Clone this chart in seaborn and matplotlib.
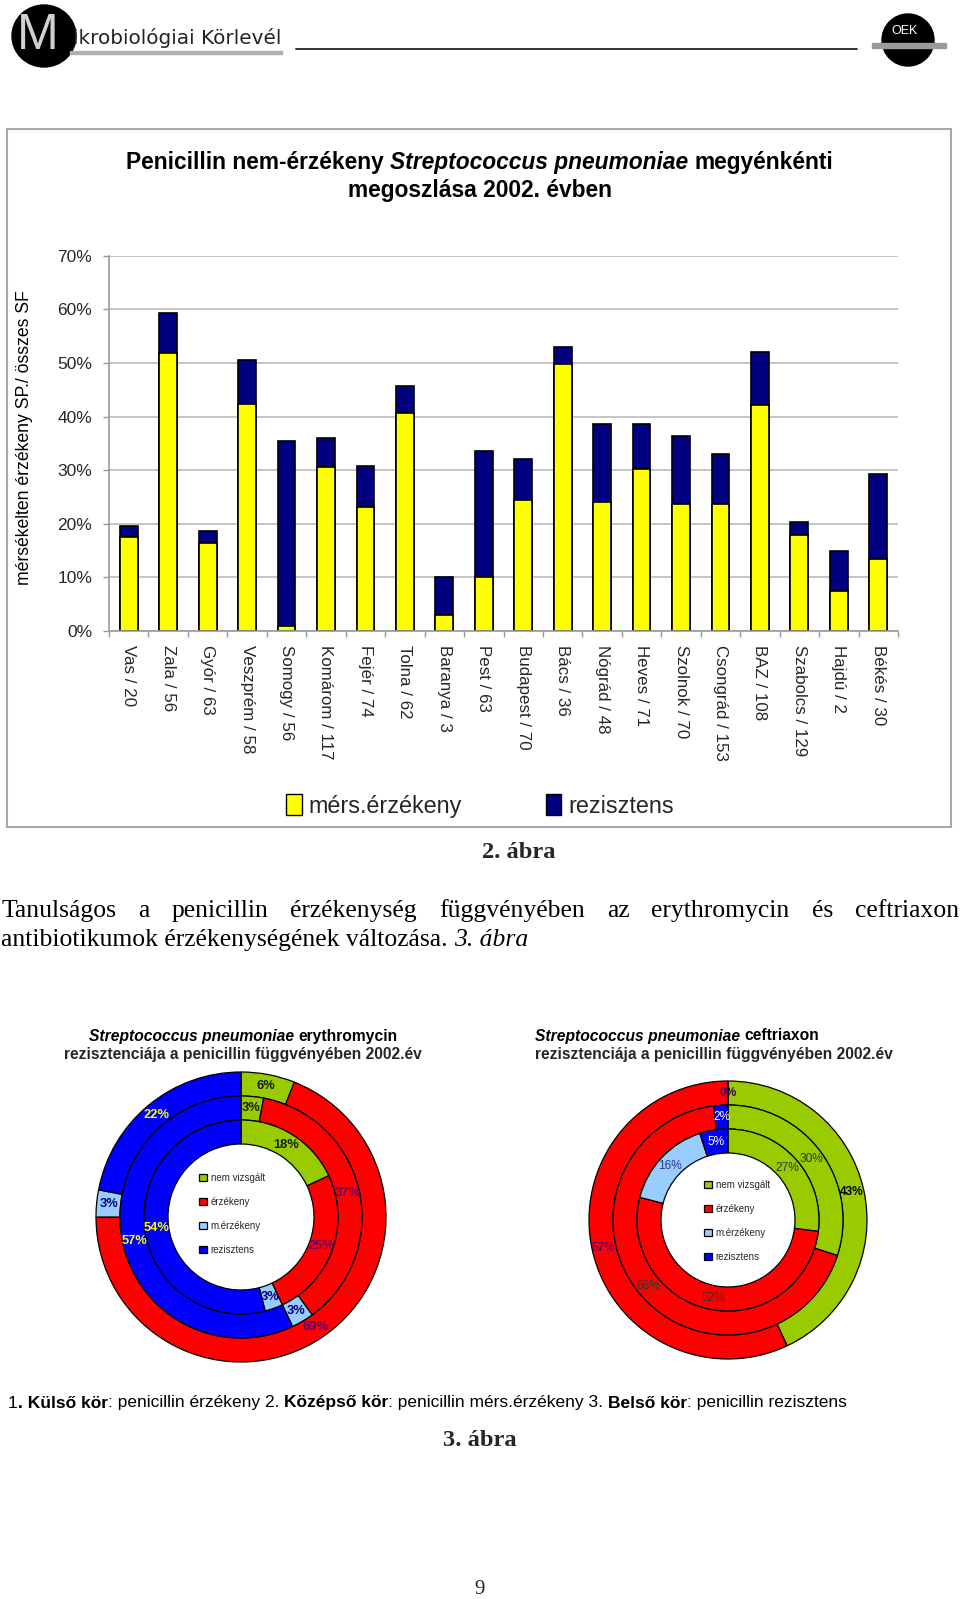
import numpy as np
import matplotlib
matplotlib.use("Agg")
import matplotlib.pyplot as plt
from matplotlib.patches import Rectangle, Ellipse, Patch
import seaborn as sns
import pandas as pd

# ---------------- data ----------------
regions = ["Vas / 20", "Zala / 56", "Gyór / 63", "Veszprém / 58", "Somogy / 56",
           "Komárom / 117", "Fejér / 74", "Tolna / 62", "Baranya / 3", "Pest / 63",
           "Budapest / 70", "Bács / 36", "Nógrád / 48", "Heves / 71", "Szolnok / 70",
           "Csongrád / 153", "BAZ / 108", "Szabolcs / 129", "Hajdú / 2", "Békés / 30"]
mers_erzekeny = [17.6, 51.9, 16.5, 42.4, 1.0, 30.6, 23.2, 40.6, 3.0, 10.1,
                 24.4, 49.8, 24.1, 30.3, 23.7, 23.7, 42.2, 17.9, 7.5, 13.4]
rezisztens = [2.0, 7.5, 2.1, 8.1, 34.4, 5.4, 7.5, 5.1, 7.0, 23.5,
              7.7, 3.1, 14.6, 8.4, 12.7, 9.4, 9.8, 2.5, 7.5, 15.9]
y_ticks = [0, 10, 20, 30, 40, 50, 60, 70]
bar_series = ["mérs.érzékeny", "rezisztens"]

categories = ["nem vizsgált", "érzékeny", "m.érzékeny", "rezisztens"]
ery_outer = [6, 69, 3, 22]
ery_middle = [3, 37, 3, 57]
ery_inner = [18, 25, 3, 54]
cef_outer = [43, 57, 0, 0]
cef_middle = [30, 68, 0, 2]
cef_inner = [27, 52, 16, 5]

# ---------------- setup ----------------
sns.set_theme(style="white")
plt.rcParams["font.family"] = ["Liberation Sans", "DejaVu Sans"]
W, H = 960, 1599
fig = plt.figure(figsize=(W / 100, H / 100), dpi=100)
fig.patch.set_facecolor("white")
REND = fig.canvas.get_renderer()

pg = fig.add_axes([0, 0, 1, 1], zorder=0)
pg.set_xlim(0, W)
pg.set_ylim(H, 0)
pg.axis("off")

SANS = ["Liberation Sans", "DejaVu Sans"]
SERIF = ["Liberation Serif", "DejaVu Serif"]


def px_axes(l, t, r, b, z=2):
    ax = fig.add_axes([l / W, 1 - b / H, (r - l) / W, (b - t) / H], zorder=z)
    ax.patch.set_alpha(0)
    return ax


def tw(s, **kw):
    t = pg.text(0, 0, s, **kw)
    w = t.get_window_extent(REND).width
    t.remove()
    return w


def fit(s, target, **kw):
    return 10 * target / tw(s, fontsize=10, **kw)


def rich(segs, x, y, ha="left", **base):
    items, total = [], 0.0
    for s, st in segs:
        kw = {**base, **st}
        lead = len(s) - len(s.lstrip(" "))
        trail = len(s) - len(s.rstrip(" "))
        core = s.strip(" ")
        sp = tw("x x", **kw) - tw("xx", **kw)
        total += lead * sp
        items.append((core, kw, total))
        total += tw(core, **kw) + trail * sp
    x0 = x - total / 2 if ha == "center" else x
    for core, kw, off in items:
        pg.text(x0 + off, y, core, ha="left", va="center", **kw)
    return total


def justify(words, x0, x1, y, **kw):
    ws = [tw(w, **kw) for w in words]
    gap = (x1 - x0 - sum(ws)) / (len(words) - 1)
    x = x0
    for w, wd in zip(words, ws):
        pg.text(x, y, w, ha="left", va="center", **kw)
        x += wd + gap


# ---------------- header ----------------
pg.add_patch(Ellipse((44, 36), 64, 62, color="black", zorder=2))
pg.text(38, 36, "M", ha="center", va="center", fontsize=36, color="#d0d0d0",
        family=SANS, zorder=3)
pg.text(73, 38, "ikrobiológiai Körlevél", ha="left", va="center", fontsize=14.4,
        color="#222222", family=["DejaVu Sans"], zorder=3)
pg.add_patch(Rectangle((70, 51), 212, 3, color="#b0b0b0", zorder=2))
pg.plot([296, 857], [49, 49], color="#333333", lw=1.4)
pg.add_patch(Ellipse((908, 40), 52, 52, color="black", zorder=2))
pg.add_patch(Rectangle((872, 43), 74, 5, color="#9a9a9a", zorder=3))
pg.text(904, 31, "OEK", ha="center", va="center", fontsize=9, color="white",
        family=SANS, zorder=4)

# ---------------- chart box ----------------
pg.add_patch(Rectangle((7, 129), 944, 698, fill=False, ec="#A8A8A8", lw=1.5))
ts = fit("Penicillin nem-érzékeny Streptococcus pneumoniae megyénkénti", 709,
         family=SANS, fontweight="bold")
rich([("Penicillin nem-érzékeny ", {}),
      ("Streptococcus pneumoniae", {"fontstyle": "italic"}),
      (" megyénkénti", {})], 480, 162, ha="center",
     family=SANS, fontweight="bold", fontsize=ts, color="black")
pg.text(480, 191, "megoszlása 2002. évben", ha="center", va="center",
        family=SANS, fontweight="bold", fontsize=ts, color="black")

# ---------------- bar chart ----------------
df = pd.DataFrame({"region": regions, "mers": mers_erzekeny, "rez": rezisztens})
df["total"] = df["mers"] + df["rez"]
ax = px_axes(109, 255.7, 898, 631)
sns.barplot(data=df, x="region", y="total", color="#000080", saturation=1,
            width=0.45, edgecolor="black", linewidth=1.2, errorbar=None, ax=ax)
sns.barplot(data=df, x="region", y="mers", color="#FFFF00", saturation=1,
            width=0.45, edgecolor="black", linewidth=1.2, errorbar=None, ax=ax)
ax.set_ylim(0, 70)
ax.set_xlim(-0.5, len(regions) - 0.5)
ax.set_xlabel("")
ax.set_ylabel("")
ax.set_yticks(y_ticks)
ax.set_yticklabels([f"{v}%" for v in y_ticks])
ax.yaxis.grid(True, color="#C0C0C0", lw=1.3)
ax.set_axisbelow(True)
ax.set_xticks(range(len(regions)))
ax.set_xticklabels(regions, rotation=270)
ax.set_xticks(np.arange(-0.5, len(regions), 1), minor=True)
ax.tick_params(axis="x", which="major", length=0, pad=10, labelsize=12.2)
ax.tick_params(axis="x", which="minor", length=4, color="#999999", width=1,
               bottom=True)
ax.tick_params(axis="y", length=4, color="#999999", width=1, pad=8,
               labelsize=12.5, left=True)
for side in ["top", "right"]:
    ax.spines[side].set_visible(False)
for side in ["left", "bottom"]:
    ax.spines[side].set_color("#999999")
    ax.spines[side].set_linewidth(1.2)

pg.text(25, 438, "mérsékelten érzékeny SP./ összes SF", rotation=90,
        ha="center", va="center", fontsize=12.7, family=SANS, color="black")

handles = [Patch(facecolor="#FFFF00", edgecolor="black", lw=1),
           Patch(facecolor="#000080", edgecolor="black", lw=1)]
fig.legend(handles, bar_series, loc="center", ncol=2,
           bbox_to_anchor=(480 / W, 1 - 806 / H), frameon=False,
           fontsize=16.8, handlelength=0.65, handleheight=0.95,
           handletextpad=0.3, columnspacing=3.6)

# ---------------- body text ----------------
bs = fit("2. ábra", 74, family=SERIF, fontweight="bold")
pg.text(519, 852, "2. ábra", ha="center", va="center", family=SERIF,
        fontweight="bold", fontsize=bs)
ps = fit("antibiotikumok érzékenységének változása. 3. ábra", 522, family=SERIF)
justify("Tanulságos a penicillin érzékenység függvényében az erythromycin és ceftriaxon".split(),
        1, 959, 911, family=SERIF, fontsize=ps, color="black")
rich([("antibiotikumok érzékenységének változása. ", {}),
      ("3. ábra", {"fontstyle": "italic"})], 1, 940,
     family=SERIF, fontsize=ps, color="black")

# ---------------- donuts ----------------
cat_colors = ["#99CC00", "#FF0000", "#99CCFF", "#0000FF"]


def donut(cx, cy, rings, radii, styles, leg_xy, lab_size):
    ax = px_axes(cx - 150, cy - 150, cx + 150, cy + 150)
    ring_w = radii[0] - radii[1]
    sets = []
    for vals, R, st in zip(rings, radii, styles):
        wedges, _ = ax.pie(vals, radius=R, startangle=90, counterclock=False,
                           colors=cat_colors,
                           wedgeprops=dict(width=ring_w, edgecolor="black",
                                           linewidth=0.9))
        sets.append(wedges)
        tot = sum(vals)
        cum = 0
        for v, s in zip(vals, st):
            mid = (cum + v / 2) / tot * 360
            cum += v
            if s is None:
                continue
            rr = R - ring_w / 2
            ax.text(rr * np.sin(np.radians(mid)), rr * np.cos(np.radians(mid)),
                    f"{v}%", ha="center", va="center", color=s[0],
                    fontweight=s[1], fontsize=lab_size, family=SANS)
    ax.set_xlim(-150, 150)
    ax.set_ylim(-150, 150)
    ax.set_aspect("equal")
    ax.axis("off")
    ax.legend(sets[-1], categories, loc="center", bbox_to_anchor=leg_xy,
              frameon=False, fontsize=7, handlelength=0.75, handleheight=0.75,
              handletextpad=0.4, labelspacing=1.45, borderpad=0)
    return ax


ery_style = [("#1a1a1a", "bold"), ("#660066", "bold"), ("#000080", "bold"),
             ("#FFFF00", "bold")]
donut(241, 1217, [ery_outer, ery_middle, ery_inner], [145, 121, 97],
      [ery_style] * 3, (0.47, 0.51), 9.3)
cef_styles = [
    [("#000000", "bold"), ("#660066", "bold"), ("#330066", "bold"), None],
    [("#333333", "normal"), ("#333333", "normal"), None, ("#FFFFFF", "normal")],
    [("#333333", "normal"), ("#333333", "normal"), ("#333399", "normal"),
     ("#FFFFFF", "normal")],
]
donut(728, 1220, [cef_outer, cef_middle, cef_inner], [139, 115, 91],
      cef_styles, (0.53, 0.497), 8.6)

dts = fit("rezisztenciája a penicillin függvényében 2002.év", 358, family=SANS,
          fontweight="bold")
rich([("Streptococcus pneumoniae", {"fontstyle": "italic"}),
      (" erythromycin", {})], 243, 1036, ha="center",
     family=SANS, fontweight="bold", fontsize=dts, color="black")
pg.text(243, 1054, "rezisztenciája a penicillin függvényében 2002.év",
        ha="center", va="center", family=SANS, fontweight="bold", fontsize=dts)
rich([("Streptococcus pneumoniae", {"fontstyle": "italic"}),
      (" ceftriaxon", {})], 535, 1036,
     family=SANS, fontweight="bold", fontsize=dts, color="black")
pg.text(535, 1054, "rezisztenciája a penicillin függvényében 2002.év",
        ha="left", va="center", family=SANS, fontweight="bold", fontsize=dts)

# ---------------- footer ----------------
fs = fit("1. Külső kör: penicillin érzékeny 2. Középső kör: penicillin mérs.érzékeny 3. Belső kör: penicillin rezisztens",
         816, family=SANS)
B = {"fontweight": "bold"}
rich([("1", {}), (". Külső kör", B), (": penicillin érzékeny 2. ", {}),
      ("Középső kör", B), (": penicillin mérs.érzékeny 3. ", {}),
      ("Belső kör", B), (": penicillin rezisztens", {})], 8, 1403,
     family=SANS, fontsize=fs, color="black")
pg.text(480, 1441, "3. ábra", ha="center", va="center", family=SERIF,
        fontweight="bold", fontsize=bs)
pg.text(480, 1589, "9", ha="center", va="center", family=SERIF, fontsize=15)

fig.savefig("out.png", dpi=100, facecolor="white")
